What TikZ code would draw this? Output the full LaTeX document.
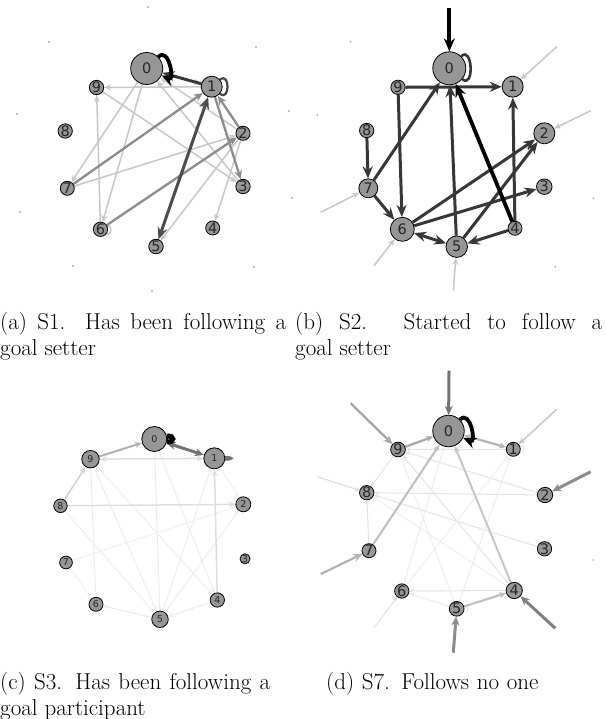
\documentclass[tikz,border=0pt]{standalone}
\usepackage{fontspec}
\usepackage{tikz}
\usetikzlibrary{arrows.meta,backgrounds}
\usepackage{xcolor}
\newfontfamily\vfont{DejaVu Sans}
\definecolor{vgray}{RGB}{150,150,150}
\definecolor{faintgray}{RGB}{228,228,228}
\definecolor{palegray}{RGB}{200,200,200}
\definecolor{midgray}{RGB}{140,140,140}
\definecolor{strongray}{RGB}{55,55,55}
\tikzset{
    vnode/.style={
        circle,
        draw=black,
        line width=0.8pt,
        fill=vgray,
        inner sep=0pt,
        text=black!85,
        font=\vfont\fontsize{14.5}{14.5}\selectfont
    },
    smallnode/.style={
        vnode,
        font=\vfont\fontsize{9.5}{9.5}\selectfont
    },
    farpt/.style={
        circle,
        fill=black!45,
        inner sep=0pt,
        minimum size=1.6pt
    },
    faint/.style={
        draw=faintgray,
        line width=1pt,
        >={Stealth[length=5pt,width=4.5pt]},
        ->
    },
    pale/.style={
        draw=palegray,
        line width=1.5pt,
        >={Stealth[length=7pt,width=6pt]},
        ->
    },
    mid/.style={
        draw=midgray,
        line width=2.3pt,
        >={Stealth[length=9pt,width=8pt]},
        ->
    },
    strong/.style={
        draw=strongray,
        line width=3pt,
        >={Stealth[length=12pt,width=10pt]},
        ->
    },
    heavy/.style={
        draw=black,
        line width=3.8pt,
        >={Stealth[length=13pt,width=11pt]},
        ->
    },
    capt/.style={
        font=\fontsize{23}{26}\selectfont,
        text width=286pt,
        align=justify,
        inner sep=0pt,
        anchor=north west
    }
}

\begin{document}
\begin{tikzpicture}[x=1pt,y=-1pt]
    \useasboundingbox (0,0) rectangle (605,719);

    % (a) S1
    \node[vnode, minimum size=32pt] (a0) at (146.7,68.5) {0};
    \node[vnode, minimum size=21pt] (a1) at (211.7,86.7) {1};
    \node[vnode, minimum size=14pt] (a2) at (243,133.3) {2};
    \node[vnode, minimum size=13.5pt] (a3) at (243,186.5) {3};
    \node[vnode, minimum size=12pt] (a4) at (212.7,228) {4};
    \node[vnode, minimum size=14.5pt] (a5) at (156,246.5) {5};
    \node[vnode, minimum size=14pt] (a6) at (100.5,229.3) {6};
    \node[vnode, minimum size=13.5pt] (a7) at (67.3,188.3) {7};
    \node[vnode, minimum size=10.5pt] (a8) at (65.2,131) {8};
    \node[vnode, minimum size=11.5pt] (a9) at (96.5,87.5) {9};
    \node[farpt] (ap1) at (148,7) {};
    \node[farpt] (ap2) at (49,42) {};
    \node[farpt] (ap3) at (256,47) {};
    \node[farpt] (ap4) at (17,114) {};
    \node[farpt] (ap5) at (289,111) {};
    \node[farpt] (ap6) at (20,212) {};
    \node[farpt] (ap7) at (292,198) {};
    \node[farpt] (ap8) at (73,266) {};
    \node[farpt] (ap9) at (254,267) {};
    \node[farpt] (ap10) at (152,291) {};

    % (b) S2
    \node[vnode, minimum size=33pt] (b0) at (449.3,68.3) {0};
    \node[vnode, minimum size=21pt] (b1) at (512.7,86.7) {1};
    \node[vnode, minimum size=21pt] (b2) at (544.3,133.3) {2};
    \node[vnode, minimum size=15.5pt] (b3) at (544.3,186.7) {3};
    \node[vnode, minimum size=11.5pt] (b4) at (515,228.3) {4};
    \node[vnode, minimum size=21.5pt] (b5) at (456.7,246.7) {5};
    \node[vnode, minimum size=24pt] (b6) at (402.3,229.3) {6};
    \node[vnode, minimum size=19pt] (b7) at (368.3,188.3) {7};
    \node[vnode, minimum size=10.5pt] (b8) at (366.7,130.5) {8};
    \node[vnode, minimum size=11pt] (b9) at (398,87.3) {9};
    \node[farpt] (bp1) at (350.7,41.7) {};
    \node[farpt] (bp2) at (317.3,115) {};
    \node[farpt] (bp3) at (593.3,198.3) {};
    \node[farpt] (bp4) at (555.3,266.7) {};
    \coordinate (bx0) at (449.3,8);
    \coordinate (bx1) at (556.7,46.7);
    \coordinate (bx2) at (590.7,110.7);
    \coordinate (bx7) at (320.7,212.3);
    \coordinate (bx6) at (374,265.7);
    \coordinate (bx5) at (453.3,290.7);

    % (c) S3
    \node[smallnode, minimum size=25pt] (c0) at (154.3,439) {0};
    \node[smallnode, minimum size=21pt] (c1) at (214.3,458.3) {1};
    \node[smallnode, minimum size=15pt] (c2) at (243.3,504.3) {2};
    \node[smallnode, minimum size=10pt] (c3) at (245,558.8) {3};
    \node[smallnode, minimum size=14.3pt] (c4) at (217.3,600) {4};
    \node[smallnode, minimum size=16.5pt] (c5) at (160,619.3) {5};
    \node[smallnode, minimum size=14pt] (c6) at (96,604.3) {6};
    \node[smallnode, minimum size=12.7pt] (c7) at (66,562.5) {7};
    \node[smallnode, minimum size=13.5pt] (c8) at (60.5,505.8) {8};
    \node[smallnode, minimum size=17.5pt] (c9) at (90.5,459.2) {9};

    % (d) S7
    \node[vnode, minimum size=31.5pt] (d0) at (448.5,431) {0};
    \node[vnode, minimum size=12.7pt] (d1) at (513.3,449.3) {1};
    \node[vnode, minimum size=15.3pt] (d2) at (545,495) {2};
    \node[vnode, minimum size=11.7pt] (d3) at (544.5,548.8) {3};
    \node[vnode, minimum size=16.3pt] (d4) at (514.2,590.5) {4};
    \node[vnode, minimum size=14.7pt] (d5) at (456.7,608.8) {5};
    \node[vnode, minimum size=13.3pt] (d6) at (401.8,591) {6};
    \node[vnode, minimum size=13.7pt] (d7) at (369,550.7) {7};
    \node[vnode, minimum size=12.7pt] (d8) at (366.7,492.7) {8};
    \node[vnode, minimum size=14.7pt] (d9) at (398,449.5) {9};
    \node[farpt] (dp1) at (593.3,560) {};
    \coordinate (dx0) at (449,370.7);
    \coordinate (dx9) at (350.7,403.3);
    \coordinate (dx1) at (556.7,409.3);
    \coordinate (dx2) at (590.7,471.7);
    \coordinate (dx8) at (317.3,476.7);
    \coordinate (dx7) at (320.7,574);
    \coordinate (dx6) at (374,627.7);
    \coordinate (dx5) at (453.3,652.7);
    \coordinate (dx4) at (555.3,628.3);

    \begin{scope}[on background layer]
        % (a) edges
        \draw[pale] (a0) -- (a1);
        \draw[pale] (a1) -- (a9);
        \draw[pale] (a0) -- (a7);
        \draw[pale] (a0) -- (a6);
        \draw[pale] (a6) -- (a9);
        \draw[pale] (a7) -- (a2);
        \draw[pale] (a9) -- (a3);
        \draw[pale] (a3) -- (a0);
        \draw[pale] (a2) -- (a0);
        \draw[pale] (a2) -- (a4);
        \draw[pale] (a2) -- (a5);
        \draw[pale, -] (a6) to[out=25,in=-35,min distance=6pt] (a6);
        \draw[mid] (a7) -- (a1);
        \draw[mid] (a6) -- (a2);
        \draw[mid] (a1) -- (a3);
        \draw[mid] (a2) -- (a1);
        \draw[strong] (a1) -- (a0);
        \draw[strong, draw=black!70, <->] (a5) -- (a1);
        \draw[strong, draw=black!72, line width=2.2pt, -] (a1) to[out=40,in=-40,min distance=13pt] (a1);
        \draw[heavy] (a0) to[out=45,in=-25,min distance=15pt] (a0);

        % (b) edges
        \draw[heavy] (bx0) -- (b0);
        \draw[pale] (bx1) -- (b1);
        \draw[pale] (bx2) -- (b2);
        \draw[pale] (bx7) -- (b7);
        \draw[pale] (bx6) -- (b6);
        \draw[pale] (bx5) -- (b5);
        \draw[strong] (b9) -- (b1);
        \draw[strong] (b9) -- (b6);
        \draw[strong] (b7) -- (b0);
        \draw[strong] (b8) -- (b7);
        \draw[strong] (b7) -- (b6);
        \draw[strong] (b6) -- (b2);
        \draw[strong] (b6) -- (b3);
        \draw[strong, <->] (b6) -- (b5);
        \draw[strong] (b5) -- (b0);
        \draw[strong] (b5) -- (b2);
        \draw[strong] (b4) -- (b1);
        \draw[strong] (b4) -- (b5);
        \draw[heavy] (b4) -- (b0);
        \draw[strong, line width=2.6pt, -] (b0) to[out=45,in=-40,min distance=16pt] (b0);

        % (c) edges
        \draw[faint, draw=black!7] (c9) -- (c6);
        \draw[faint, draw=black!7] (c9) -- (c5);
        \draw[faint, draw=black!7] (c9) -- (c4);
        \draw[faint, draw=black!7] (c0) -- (c5);
        \draw[faint, draw=black!7] (c0) -- (c4);
        \draw[faint, draw=black!7] (c5) -- (c1);
        \draw[faint, draw=black!7] (c8) -- (c5);
        \draw[faint, draw=black!6] (c7) -- (c2);
        \draw[faint, draw=black!6] (c7) -- (c6);
        \draw[faint, draw=black!7] (c5) -- (c2);
        \draw[faint, draw=black!8] (c4) -- (c5);
        \draw[faint, draw=black!8] (c5) -- (c6);
        \draw[faint, draw=black!6] (c1) -- (c2);
        \draw[pale, draw=black!13] (c4) -- (c1);
        \draw[pale, draw=black!13] (c8) -- (c2);
        \draw[pale, draw=black!18] (c8) -- (c9);
        \draw[pale, draw=black!13, <->] (c1) -- (c9);
        \draw[pale, draw=black!30, line width=2pt] (c9) -- (c0);
        \draw[mid, draw=black!55, line width=3pt, <->] (c0) -- (c1);
        \draw[black!55, line width=2.5pt] (c1) to[out=5,in=-5,min distance=8pt] (c1);
        \draw[black, line width=5pt] (c0) to[out=12,in=-12,min distance=8pt] (c0);

        % (d) edges
        \draw[faint] (d1) -- (d9);
        \draw[faint] (d9) -- (d8);
        \draw[faint] (d2) -- (d8);
        \draw[faint] (d2) -- (d9);
        \draw[faint] (d3) -- (d8);
        \draw[faint] (d7) -- (d8);
        \draw[faint] (d4) -- (d9);
        \draw[faint, draw=black!7] (d4) -- (d8);
        \draw[faint] (d4) -- (d6);
        \draw[faint, draw=black!7] (d5) -- (d6);
        \draw[faint, draw=black!7] (d5) -- (d1);
        \draw[faint, draw=black!7] (d6) -- (d1);
        \draw[faint, draw=black!7] (d6) -- (d0);
        \draw[faint, draw=black!7] (d5) -- (d9);
        \draw[faint, -] (d5) to[out=25,in=-25,min distance=6pt] (d5);
        \draw[faint, -] (d1) to[out=25,in=-25,min distance=6pt] (d1);
        \draw[pale, draw=black!25, line width=2pt] (d7) -- (d0);
        \draw[pale, draw=black!22, line width=2pt] (d4) -- (d0);
        \draw[pale, draw=black!25, line width=2pt] (d5) -- (d4);
        \draw[pale, draw=black!28, line width=2.3pt, <->] (d1) -- (d0);
        \draw[pale, draw=black!33, line width=2.3pt] (d9) -- (d0);
        \draw[mid, draw=black!55, line width=3pt] (dx0) -- (d0);
        \draw[mid, draw=black!35, line width=2.3pt] (dx9) -- (d9);
        \draw[pale] (dx1) -- (d1);
        \draw[mid, draw=black!45, line width=3pt] (dx2) -- (d2);
        \draw[faint, draw=black!15] (dx8) -- (d8);
        \draw[mid, draw=black!30, line width=2.2pt] (dx7) -- (d7);
        \draw[faint, draw=black!12] (dx6) -- (d6);
        \draw[mid, draw=black!45, line width=3pt] (dx5) -- (d5);
        \draw[mid, draw=black!50, line width=3pt] (dx4) -- (d4);
        \draw[heavy] (d0) to[out=45,in=-25,min distance=15pt] (d0);
    \end{scope}

    % Captions
    \node[capt] (capa) at (0,312) {(a) S1. Has been following a\linebreak goal setter};
    \node[capt, text width=307pt] (capb) at (295,312) {(b) S2. Started to follow a\linebreak goal setter};
    \node[capt, text width=270pt] (capc) at (0,672) {(c) S3. Has been following a\linebreak goal participant};
    \node[capt, text width=260pt, align=left] (capd) at (326,672) {(d) S7. Follows no one};
\end{tikzpicture}
\end{document}
